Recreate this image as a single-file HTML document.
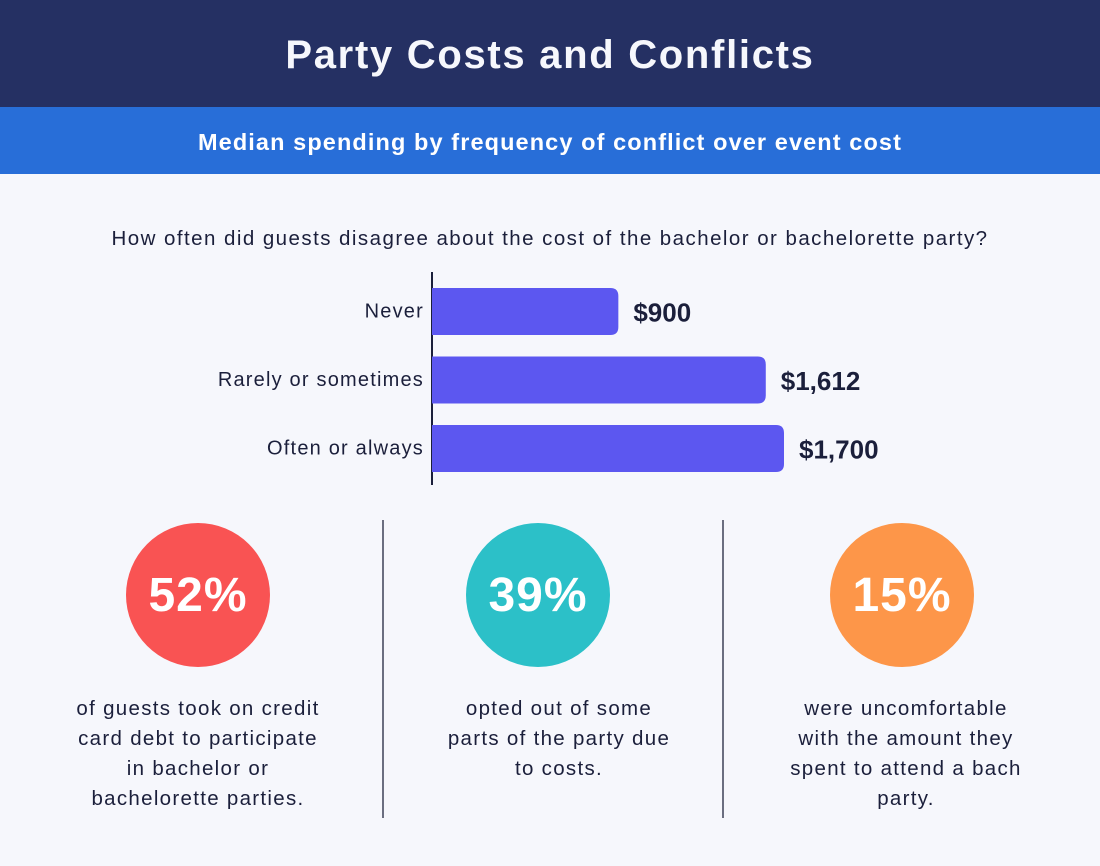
<!DOCTYPE html>
<html><head><meta charset="utf-8"><style>
body{margin:0;width:1100px;height:866px;background:#f6f7fc;font-family:"Liberation Sans",sans-serif;position:relative;overflow:hidden;color:#1b1f3b}
.hdr{position:absolute;left:0;top:0;width:1100px;height:107px;background:#253063;color:#f6f7fc;font-weight:bold;font-size:40px;letter-spacing:1.7px;text-align:center;line-height:110px}
.sub{position:absolute;left:0;top:107px;width:1100px;height:67px;background:#286ed8;color:#fff;font-weight:bold;font-size:23.5px;letter-spacing:1.1px;text-align:center;line-height:70px}
.q{position:absolute;left:0;top:227px;width:1100px;text-align:center;font-size:20.5px;letter-spacing:1.45px}
.circ{position:absolute;width:144px;height:144px;border-radius:50%;color:#fff;font-weight:bold;font-size:48px;letter-spacing:1px;text-align:center;line-height:146px}
.txt{position:absolute;width:320px;text-align:center;font-size:20.5px;letter-spacing:1.3px;line-height:30px}
.div{position:absolute;top:520px;width:2px;height:298px;background:#6b6e80}
</style></head><body>
<div class="hdr">Party Costs and Conflicts</div>
<div class="sub">Median spending by frequency of conflict over event cost</div>
<div class="q">How often did guests disagree about the cost of the bachelor or bachelorette party?</div>
<svg id="chart" width="1100" height="520" style="position:absolute;left:0;top:0"></svg>
<div class="circ" style="left:126px;top:523px;background:#f95353">52%</div>
<div class="circ" style="left:466px;top:523px;background:#2cc0c8">39%</div>
<div class="circ" style="left:830px;top:523px;background:#fd9649">15%</div>
<div class="div" style="left:382px"></div>
<div class="div" style="left:722px"></div>
<div class="txt" style="left:38px;top:694px">of guests took on credit<br>card debt to participate<br>in bachelor or<br>bachelorette parties.</div>
<div class="txt" style="left:399px;top:694px">opted out of some<br>parts of the party due<br>to costs.</div>
<div class="txt" style="left:746px;top:694px">were uncomfortable<br>with the amount they<br>spent to attend a bach<br>party.</div>
<script>
const categories=["Never","Rarely or sometimes","Often or always"];
const values=[900,1612,1700];
const valueLabels=["$900","$1,612","$1,700"];
const svg=document.getElementById('chart');
const NS='http://www.w3.org/2000/svg';
const x0=432, scale=352/1700;
const xS=v=>v*scale;
const yS=i=>288+i*68.5;
const bh=47;
function mk(t,a){const e=document.createElementNS(NS,t);for(const k in a)e.setAttribute(k,a[k]);svg.appendChild(e);return e;}
const ax=mk('line',{x1:x0,x2:x0,y1:272,y2:485,stroke:'#1b1f3b','stroke-width':2});


categories.forEach((c,i)=>{
  const w=xS(values[i]),y=yS(i);
  const p=mk('path',{d:`M${x0} ${y}H${x0+w-8}Q${x0+w} ${y} ${x0+w} ${y+8}V${y+bh-8}Q${x0+w} ${y+bh} ${x0+w-8} ${y+bh}H${x0}Z`,fill:'#5c57f0'});
  
  
  const l=mk('text',{x:424,y:y+bh/2+6,'text-anchor':'end','font-size':20,'letter-spacing':1.2,fill:'#1b1f3b'});l.textContent=c;
  
  
  const v=mk('text',{x:x0+w+15,y:y+bh/2+10,'font-size':26,'font-weight':'bold',fill:'#1b1f3b'});v.textContent=valueLabels[i];
  
  
});
</script>
</body></html>
